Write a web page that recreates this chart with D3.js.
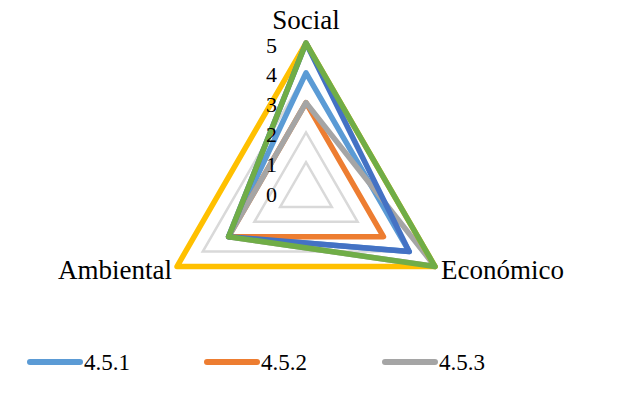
<!DOCTYPE html>
<html><head><meta charset="utf-8">
<script src="https://cdn.jsdelivr.net/npm/d3@7"></script>
<style>body{margin:0;background:#fff}svg{display:block}</style>
</head><body>
<svg id="c" width="619" height="395"></svg>
<script>
const axes = ["Social", "Económico", "Ambiental"];
const seriesNames = ["4.5.1", "4.5.2", "4.5.3", "4.5.4", "4.5.5", "4.5.6"];
const s451 = [4, 4, 3];
const s452 = [3, 3, 3];
const s453 = [3, 5, 3];
const s454 = [5, 5, 5];
const s455 = [5, 4, 3];
const s456 = [5, 5, 3];
const seriesValues = [s451, s452, s453, s454, s455, s456];
const colors = ["#5B9BD5", "#ED7D31", "#A5A5A5", "#FFC000", "#4472C4", "#70AD47"];
const ticks = [0, 1, 2, 3, 4, 5];
const legendShown = ["4.5.1", "4.5.2", "4.5.3"];

const svg = d3.select("#c");
const FONT = '"Liberation Serif"';
const cx = 306, cy = 192, R = 149;
const r = d3.scaleLinear().domain([0, 5]).range([0, R]);
const ang = d3.scalePoint().domain(axes).range([0, 2 * Math.PI * 2 / 3]);
const pt = (a, v) => [cx + r(v) * Math.sin(ang(a)), cy - r(v) * Math.cos(ang(a))];

// gridlines
ticks.filter(t => t > 0).forEach(t => {
  svg.append("polygon")
    .attr("points", axes.map(a => pt(a, t).join(",")).join(" "))
    .attr("fill", "none").attr("stroke", "#D9D9D9").attr("stroke-width", 2.5);
});

// series
const line = d3.line().curve(d3.curveLinearClosed);
seriesValues.forEach((vals, i) => {
  svg.append("path")
    .attr("d", line(axes.map((a, j) => pt(a, vals[j]))))
    .attr("fill", "none").attr("stroke", colors[i]).attr("stroke-width", 5.5)
    .attr("stroke-linejoin", "round");
});

// tick labels
svg.selectAll("text.tick").data(ticks).enter().append("text")
  .attr("x", cx - 29).attr("y", t => cy - r(t) + 2)
  .attr("text-anchor", "end").attr("dominant-baseline", "central")
  .style("font-family", FONT).style("font-size", "22px").attr("fill", "#000")
  .text(t => t);

// axis labels
const lab = [
  {t: axes[0], x: cx, y: 20, anchor: "middle"},
  {t: axes[1], x: 441, y: 270, anchor: "start"},
  {t: axes[2], x: 172, y: 270, anchor: "end"}
];
lab.forEach(l => {
  svg.append("text").attr("x", l.x).attr("y", l.y)
    .attr("text-anchor", l.anchor).attr("dominant-baseline", "central")
    .style("font-family", FONT).style("font-size", "27px").attr("fill", "#000").text(l.t);
});

// legend
const lx = [30, 207, 385];
legendShown.forEach((n, i) => {
  const c = colors[seriesNames.indexOf(n)];
  svg.append("line").attr("x1", lx[i]).attr("x2", lx[i] + 50).attr("y1", 362).attr("y2", 362)
    .attr("stroke", c).attr("stroke-width", 6).attr("stroke-linecap", "round");
  svg.append("text").attr("x", lx[i] + 54).attr("y", 362)
    .attr("dominant-baseline", "central")
    .style("font-family", FONT).style("font-size", "23px").attr("fill", "#000").text(n);
});
</script>
</body></html>
